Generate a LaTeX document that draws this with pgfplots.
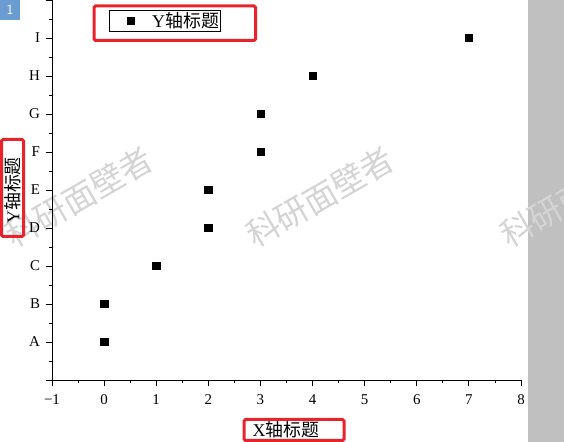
\documentclass[border=0pt]{standalone}
\usepackage{pgfplots}
\pgfplotsset{compat=1.18}
\usepackage{fontspec}
\setmainfont{Liberation Serif}
\newfontfamily\cjk{Noto Sans CJK SC}
\definecolor{hlred}{HTML}{E8232B}
\definecolor{barGray}{HTML}{C0C0C0}
\definecolor{tagBlue}{HTML}{6A9BD1}
\definecolor{wmGray}{HTML}{D4D4D4}
\begin{document}
\begin{tikzpicture}[x=1bp,y=1bp]
\useasboundingbox (0,0) rectangle (564,442);
% grey side panel and page tag
\fill[barGray] (528,0) rectangle (564,442);
\fill[tagBlue] (0,422) rectangle (20,442);
\node[white,font=\sffamily\fontsize{14}{14}\selectfont] at (10,432) {1};
% watermark
\foreach \cx in {79,320,574}{
  \node[rotate=30, text=wmGray, font=\cjk\fontsize{33}{33}\selectfont] at (\cx,245) {科研面壁者};
}
\begin{axis}[
  at={(52bp,62bp)}, anchor=south west, scale only axis,
  width=469bp, height=380bp,
  xmin=-1, xmax=8, ymin=0, ymax=10,
  axis lines=left, axis line style={-, line width=0.9bp},
  xtick={-1,...,8}, xticklabels={−1,0,1,2,3,4,5,6,7,8},
  ytick={0,...,10}, yticklabels={,A,B,C,D,E,F,G,H,I,},
  minor x tick num=1, minor y tick num=1,
  tick align=outside, major tick length=6.5bp, minor tick length=3.5bp,
  every tick/.style={black, line width=0.9bp},
  ticklabel style={font=\fontsize{15}{15}\selectfont},
  xticklabel style={yshift=-5bp},
  yticklabel style={xshift=-2bp},
  clip=false,
  legend image code/.code={%
    \path (0bp,-6bp) (41bp,6bp);
    \draw[mark repeat=2,mark phase=2,#1] plot coordinates {(0bp,0bp) (20bp,0bp) (40bp,0bp)};},
  legend style={at={(0.1215,0.9737)}, anchor=north west, draw=black,
    line width=0.8bp, inner xsep=1bp, inner ysep=2bp,
    nodes={inner sep=0pt},
    font=\fontsize{18}{18}\selectfont, legend cell align=left},
]
\addplot[only marks, mark=square*, mark size=3.7bp, black] coordinates {
  (0,1) (0,2) (1,3) (2,4) (2,5) (3,6) (3,7) (4,8) (7,9)
};
\addlegendentry{Y{\cjk 轴标题}}
\end{axis}
% axis titles
\node[font=\fontsize{18}{18}\selectfont] at (286,12) {X{\cjk 轴标题}};
\node[rotate=90, font=\fontsize{18}{18}\selectfont] at (12.5,251.5) {Y{\cjk 轴标题}};
% highlight frames
\draw[hlred, line width=3bp, rounded corners=1.5bp] (94,436) rectangle (255.5,401.5);
\draw[hlred, line width=3bp, rounded corners=1.5bp] (1.5,302.5) rectangle (23.5,205.5);
\draw[hlred, line width=3bp, rounded corners=1.5bp] (244,22.5) rectangle (344,1.5);
\end{tikzpicture}
\end{document}
